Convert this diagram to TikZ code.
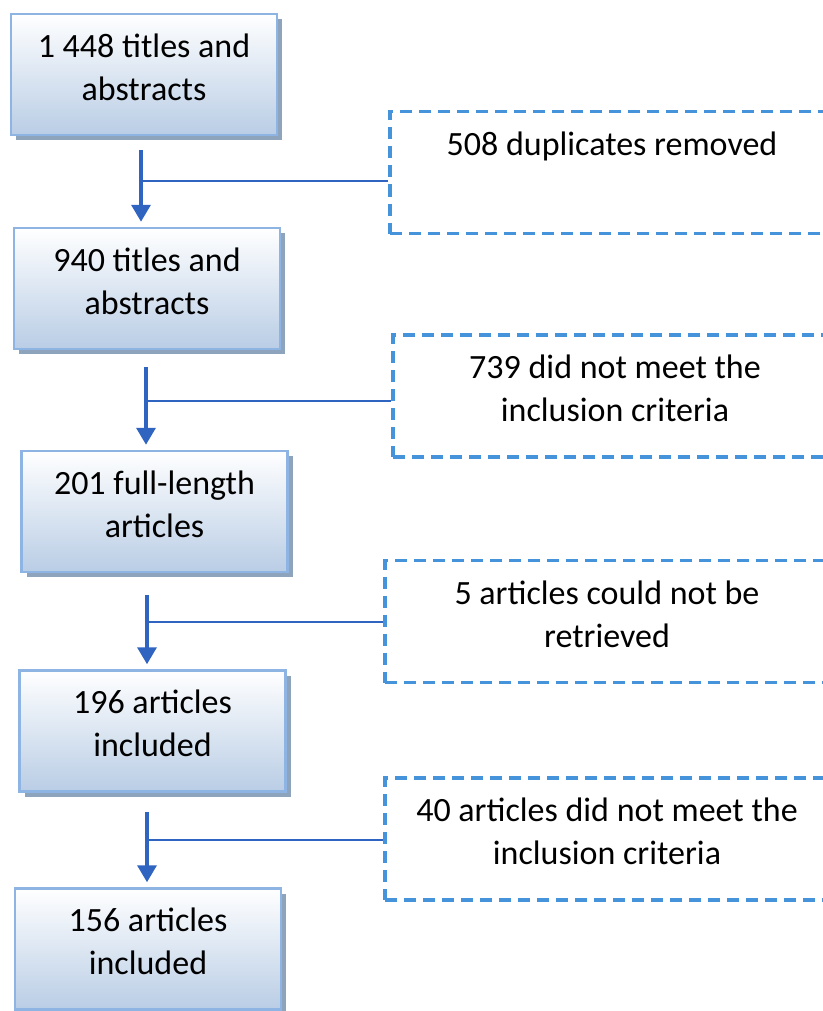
\documentclass[tikz,border=0pt]{standalone}
\usepackage{fontspec}
\setmainfont{Carlito}
\usetikzlibrary{arrows.meta,shadows}
\definecolor{boxline}{HTML}{8DB4E2}
\definecolor{boxfill}{HTML}{B9CDE5}
\definecolor{boxshadow}{HTML}{8EA3BC}
\definecolor{flowblue}{HTML}{2F65C1}
\definecolor{dashblue}{HTML}{4593DB}
\tikzset{
    prisma diagram/.style = {x=1pt, y=-1pt,
                             >={Triangle[length=17pt, width=19pt]}},
    txt/.style            = {font=\fontsize{34}{43}\selectfont,
                             text depth=15pt},
    block/.style          = {txt, draw=boxline, line width=2.5pt,
                             top color=white, bottom color=boxfill,
                             minimum width=266pt, minimum height=121pt,
                             align=center,
                             drop shadow={shadow xshift=5pt,
                                          shadow yshift=-5pt,
                                          fill=boxshadow, opacity=1}},
    excl/.style           = {txt, draw=dashblue, line width=3.3pt,
                             dash pattern=on 12pt off 7pt,
                             minimum width=444pt, minimum height=122pt,
                             align=center},
    flow/.style           = {->, draw=flowblue, line width=3.5pt,
                             shorten >=5pt},
    branch/.style         = {draw=flowblue, line width=2.5pt}
}

\begin{document}
\begin{tikzpicture}[prisma diagram]
\useasboundingbox (0,0) rectangle (822,1011);

% Records kept at each screening step.
\node[block] (titles)    at (144,74.5)  {1 448 titles and\\abstracts};
\node[block] (unique)    at (147,288.5) {940 titles and\\abstracts};
\node[block] (fulltext)  at (154.5,511.5) {201 full-length\\articles};
\node[block] (retrieved) at (152.5,731) {196 articles\\included};
\node[block] (final)     at (148,949)   {156 articles\\included};

% Records dropped at each step.
\node[excl] (duplicates) at (612,172.5) {508 duplicates removed\\\strut};
\node[excl] (criteria)   at (615,396)   {739 did not meet the\\inclusion criteria};
\node[excl] (missing)    at (607,621.5) {5 articles could not be\\retrieved};
\node[excl] (rejected)   at (607,839)   {40 articles did not meet the\\inclusion criteria};

% Flow arrows with side branches.
\coordinate (j1) at (141,181);
\coordinate (j2) at (146,401);
\coordinate (j3) at (147,622);
\coordinate (j4) at (147,840);
\draw[flow] ([yshift=-14pt]j1 |- titles.south) -- (j1 |- unique.north);
\draw[branch] (j1) -- (j1 -| duplicates.west);
\draw[flow] ([yshift=-17pt]j2 |- unique.south) -- (j2 |- fulltext.north);
\draw[branch] (j2) -- (j2 -| criteria.west);
\draw[flow] ([yshift=-22pt]j3 |- fulltext.south) -- (j3 |- retrieved.north);
\draw[branch] (j3) -- (j3 -| missing.west);
\draw[flow] ([yshift=-19pt]j4 |- retrieved.south) -- (j4 |- final.north);
\draw[branch] (j4) -- (j4 -| rejected.west);

\end{tikzpicture}
\end{document}
